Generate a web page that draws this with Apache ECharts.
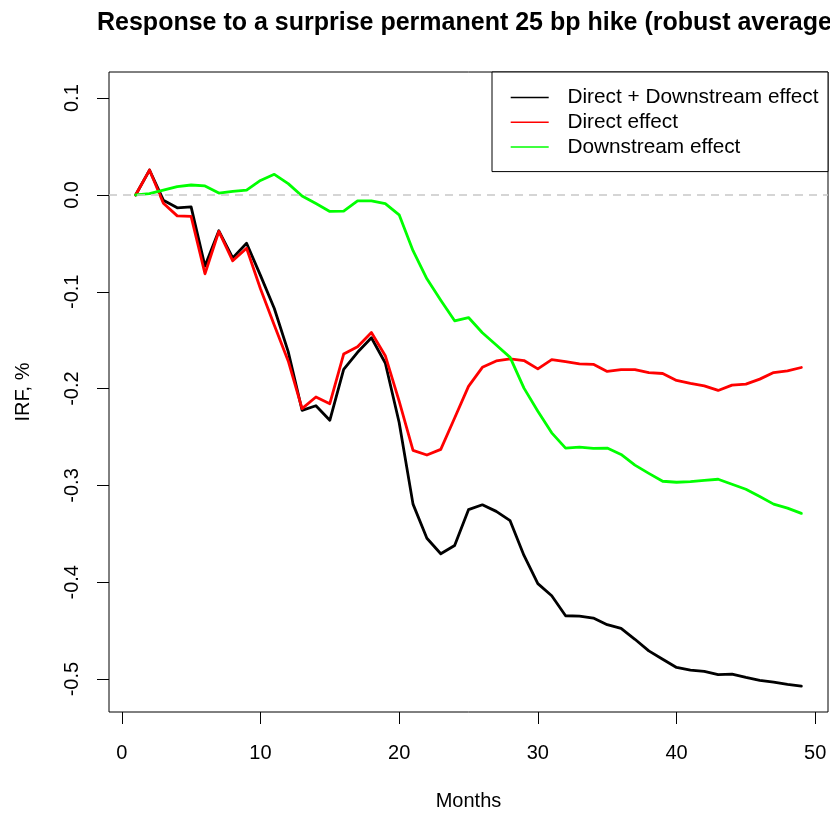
<!DOCTYPE html>
<html>
<head>
<meta charset="utf-8">
<script src="https://cdn.jsdelivr.net/npm/echarts@6/dist/echarts.min.js"></script>
<style>
  html, body { margin: 0; padding: 0; background: #ffffff; }
  #chart { width: 830px; height: 816px; }
</style>
</head>
<body>
<div id="chart"></div>
<script>
// Impulse responses (in %) to a permanent 25 bp surprise hike, by month
const months = [1, 2, 3, 4, 5, 6, 7, 8, 9, 10, 11, 12, 13, 14, 15, 16, 17, 18, 19, 20,
  21, 22, 23, 24, 25, 26, 27, 28, 29, 30, 31, 32, 33, 34, 35, 36, 37, 38, 39, 40,
  41, 42, 43, 44, 45, 46, 47, 48, 49];

const totalEffect = [0, 0.0257, -0.0054, -0.0133, -0.0123, -0.0735, -0.037, -0.065, -0.0499, -0.083,
  -0.1173, -0.1618, -0.2224, -0.2177, -0.2327, -0.1802, -0.1625, -0.1475, -0.1735, -0.235,
  -0.3193, -0.3545, -0.3706, -0.362, -0.325, -0.32, -0.3268, -0.3364, -0.3723, -0.4014,
  -0.414, -0.4346, -0.435, -0.437, -0.4438, -0.4476, -0.4589, -0.4709, -0.4795, -0.488,
  -0.4908, -0.4921, -0.4955, -0.4948, -0.4983, -0.5013, -0.5031, -0.5054, -0.5072];

const directEffect = [0, 0.0257, -0.0085, -0.0216, -0.0222, -0.0814, -0.0376, -0.068, -0.055, -0.0968,
  -0.1345, -0.1714, -0.2207, -0.2087, -0.2156, -0.1643, -0.1567, -0.142, -0.166, -0.213,
  -0.2638, -0.2686, -0.2628, -0.2303, -0.1977, -0.178, -0.1714, -0.1694, -0.171, -0.1796,
  -0.17, -0.1722, -0.1745, -0.1749, -0.1823, -0.1803, -0.1803, -0.1834, -0.1844, -0.1916,
  -0.1947, -0.1971, -0.2019, -0.1964, -0.1954, -0.1902, -0.1834, -0.1817, -0.1782];

const downstreamEffect = [0, 0.0014, 0.005, 0.0086, 0.0103, 0.0093, 0.002, 0.0038, 0.005, 0.015,
  0.0213, 0.0117, -0.001, -0.0089, -0.017, -0.0167, -0.0062, -0.0062, -0.0089, -0.0205,
  -0.0575, -0.0866, -0.1088, -0.13, -0.1266, -0.1423, -0.155, -0.1677, -0.1995, -0.2234,
  -0.2457, -0.2615, -0.2604, -0.2618, -0.2614, -0.268, -0.279, -0.2875, -0.2957, -0.2967,
  -0.296, -0.2947, -0.2936, -0.2988, -0.3039, -0.3114, -0.3193, -0.3234, -0.3289];

const seriesNames = ['Direct + Downstream effect', 'Direct effect', 'Downstream effect'];
const xTicks = [0, 10, 20, 30, 40, 50];
const yTicks = [-0.5, -0.4, -0.3, -0.2, -0.1, 0.0, 0.1];

const FONT = '"Liberation Sans", Arial, Helvetica, sans-serif';

function pairs(values) {
  return months.map((m, i) => [m, values[i]]);
}

function lineSeries(name, values, color, extra) {
  return Object.assign({
    name: name,
    type: 'line',
    data: pairs(values),
    symbol: 'none',
    showSymbol: false,
    lineStyle: { color: color, width: 2.8, join: 'round', cap: 'round' },
    itemStyle: { color: color },
    emphasis: { disabled: true },
    animation: false
  }, extra || {});
}

const chart = echarts.init(document.getElementById('chart'), null, { renderer: 'canvas' });

chart.setOption({
  backgroundColor: '#ffffff',
  animation: false,
  textStyle: { fontFamily: FONT, color: '#000' },
  title: {
    text: 'Response to a surprise permanent 25 bp hike (robust average)',
    left: 97,
    top: 11,
    padding: 0,
    textStyle: { fontFamily: FONT, fontSize: 25, fontWeight: 'bold', color: '#000' }
  },
  grid: {
    left: 109, right: 2, top: 72, bottom: 100,
    show: true, borderColor: '#000', borderWidth: 1, backgroundColor: 'transparent',
    containLabel: false
  },
  legend: {
    data: seriesNames,
    orient: 'vertical',
    left: 492,
    top: 72,
    padding: [15, 9.6, 14, 18.7],
    icon: 'rect',
    itemWidth: 38,
    itemHeight: 1.5,
    itemGap: 3.8,
    borderColor: '#000',
    borderWidth: 1,
    borderRadius: 0,
    backgroundColor: '#ffffff',
    selectedMode: false,
    textStyle: { fontFamily: FONT, fontSize: 20.8, lineHeight: 20, color: '#000', padding: [0, 0, 0, 13.7] }
  },
  xAxis: {
    type: 'value',
    min: -0.92,
    max: 50.92,
    name: 'Months',
    nameLocation: 'middle',
    nameGap: 79,
    nameTextStyle: { fontFamily: FONT, fontSize: 20, color: '#000' },
    splitLine: { show: false },
    axisLine: { show: false, onZero: false },
    axisTick: { show: true, inside: false, length: 12, customValues: xTicks, lineStyle: { color: '#000', width: 1 } },
    axisLabel: { show: true, customValues: xTicks, margin: 31, fontFamily: FONT, fontSize: 20, color: '#000' }
  },
  yAxis: {
    type: 'value',
    min: -0.534,
    max: 0.127,
    name: 'IRF, %',
    nameLocation: 'middle',
    nameGap: 76,
    nameRotate: 90,
    nameTextStyle: { fontFamily: FONT, fontSize: 20, color: '#000' },
    splitLine: { show: false },
    axisLine: { show: false, onZero: false },
    axisTick: { show: true, inside: false, length: 12, customValues: yTicks, lineStyle: { color: '#000', width: 1 } },
    axisLabel: {
      show: true, customValues: yTicks, rotate: 90, margin: 27,
      fontFamily: FONT, fontSize: 20, color: '#000',
      formatter: v => v.toFixed(1)
    }
  },
  series: [
    lineSeries(seriesNames[0], totalEffect, '#000000', {
      markLine: {
        silent: true,
        symbol: ['none', 'none'],
        label: { show: false },
        lineStyle: { color: '#c8c8c8', type: [8, 6], width: 1.5 },
        emphasis: { disabled: true },
        animation: false,
        data: [{ yAxis: 0 }]
      }
    }),
    lineSeries(seriesNames[1], directEffect, '#ff0000'),
    lineSeries(seriesNames[2], downstreamEffect, '#00ff00')
  ]
});
</script>
</body>
</html>
